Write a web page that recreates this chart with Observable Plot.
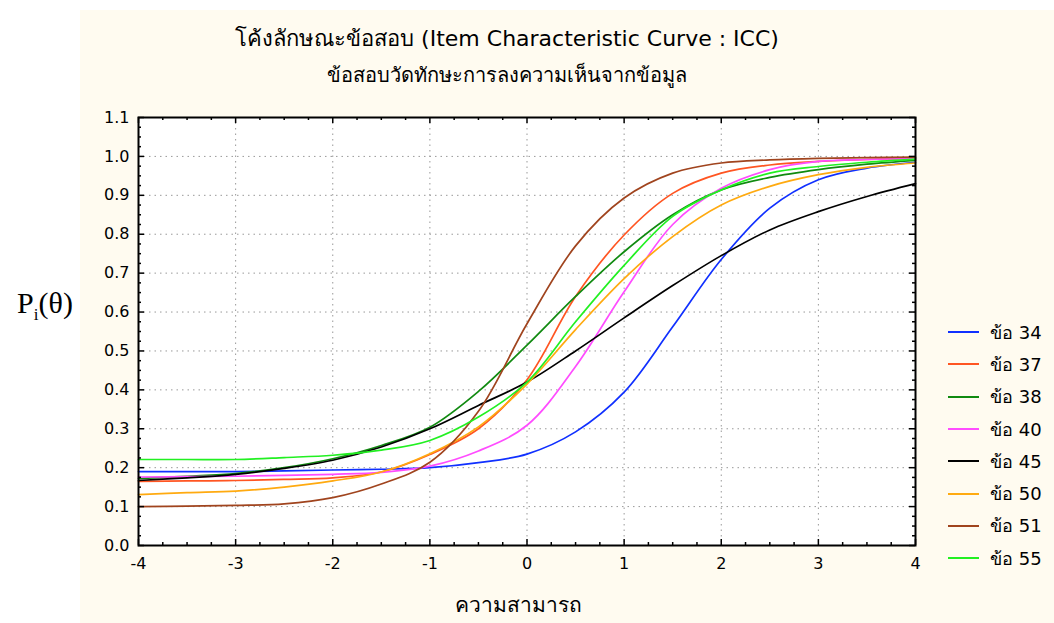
<!DOCTYPE html>
<html><head><meta charset="utf-8">
<script src="https://cdn.jsdelivr.net/npm/d3@7"></script>
<script src="https://cdn.jsdelivr.net/npm/@observablehq/plot@0.6"></script>
<style>
html,body{margin:0;padding:0;background:#fff;}
#wrap{position:relative;width:1054px;height:623px;overflow:hidden;font-family:Tahoma,"DejaVu Sans",sans-serif;color:#000;}
#panel{position:absolute;left:80px;top:10px;width:974px;height:613px;background:#fffbf0;}
#chart{position:absolute;left:0;top:0;}
.t{position:absolute;white-space:nowrap;transform:translate(-50%,-50%);}
#title{left:507px;top:38px;font-size:22px;}
#subtitle{left:507px;top:75px;font-size:20px;}
#xlabel{left:518px;top:604px;font-size:21px;}
#ylabel{left:45px;top:305px;font-family:"Liberation Serif","Times New Roman",serif;font-size:30px;}
#ylabel sub{font-size:17px;}
#legend{position:absolute;left:948px;top:316px;}
.li{display:flex;align-items:center;height:32.3px;font-size:18px;}
.sw{width:31px;height:0;border-top:2px solid;margin-right:11px;}
</style></head>
<body>
<div id="wrap">
  <div id="panel"></div>
  <div id="chart"></div>
  <div class="t" id="title">โค้งลักษณะข้อสอบ (Item Characteristic Curve : ICC)</div>
  <div class="t" id="subtitle">ข้อสอบวัดทักษะการลงความเห็นจากข้อมูล</div>
  <div class="t" id="xlabel">ความสามารถ</div>
  <div class="t" id="ylabel">P<sub>i</sub>(θ)</div>
  <div id="legend"></div>
</div>
<script>
// ability (theta) values
const theta = [-4,-3.5,-3,-2.5,-2,-1.5,-1,-0.5,0,0.5,1,1.5,2,2.5,3,3.5,4];
// item names
const items = ["ข้อ 34","ข้อ 37","ข้อ 38","ข้อ 40","ข้อ 45","ข้อ 50","ข้อ 51","ข้อ 55"];
const colors = ["#1030ff","#ff5522","#108a10","#ff4cff","#000000","#ffaa10","#a0441e","#22f022"];
// probabilities
const item34 = [0.19,0.19,0.19,0.192,0.194,0.196,0.200,0.213,0.235,0.292,0.394,0.562,0.735,0.867,0.94,0.97,0.985];
const item37 = [0.165,0.166,0.167,0.17,0.174,0.189,0.234,0.30,0.426,0.64,0.798,0.905,0.957,0.978,0.987,0.992,0.995];
const item38 = [0.172,0.178,0.185,0.20,0.223,0.257,0.304,0.396,0.515,0.64,0.755,0.85,0.914,0.946,0.966,0.98,0.99];
const item40 = [0.176,0.177,0.178,0.18,0.183,0.188,0.204,0.243,0.309,0.46,0.652,0.825,0.918,0.966,0.987,0.992,0.995];
const item45 = [0.167,0.174,0.183,0.198,0.219,0.253,0.30,0.36,0.42,0.50,0.585,0.668,0.745,0.811,0.858,0.897,0.93];
const item50 = [0.131,0.136,0.14,0.15,0.166,0.189,0.236,0.305,0.415,0.555,0.686,0.794,0.875,0.923,0.953,0.972,0.983];
const item51 = [0.10,0.101,0.103,0.107,0.123,0.158,0.214,0.345,0.57,0.77,0.893,0.957,0.983,0.991,0.995,0.997,0.998];
const item55 = [0.221,0.221,0.221,0.226,0.232,0.245,0.27,0.33,0.42,0.575,0.72,0.846,0.914,0.957,0.974,0.985,0.993];
const series = [item34,item37,item38,item40,item45,item50,item51,item55];
// ticks
const xTicks = [-4,-3,-2,-1,0,1,2,3,4];
const yTicks = [0,0.1,0.2,0.3,0.4,0.5,0.6,0.7,0.8,0.9,1.0,1.1];
const xMinor = d3.range(-4, 4.001, 0.25);
const yMinor = d3.range(0, 1.1001, 0.025);

const rows = series.flatMap((vals, i) => vals.map((p, j) => ({item: items[i], theta: theta[j], p})));

const W = 1054, H = 623, mL = 138, mR = 139, mT = 117, mB = 78;
const xPerPx = 8 / (W - mL - mR), yPerPx = 1.1 / (H - mT - mB);
const majX = 6 * xPerPx, minX = 3 * xPerPx, majY = 6 * yPerPx, minY = 3 * yPerPx;
const isMajorX = d => Math.abs(d - Math.round(d)) < 1e-6;
const isMajorY = d => Math.abs(d * 10 - Math.round(d * 10)) < 1e-6;

const chart = Plot.plot({
  width: W, height: H,
  marginLeft: mL, marginRight: mR, marginTop: mT, marginBottom: mB,
  style: {background: "transparent", fontFamily: 'Tahoma, "DejaVu Sans", sans-serif', fontSize: "16px", color: "#000"},
  x: {domain: [-4, 4]},
  y: {domain: [0, 1.1]},
  color: {domain: items, range: colors},
  marks: [
    Plot.frame({fill: "white", stroke: null}),
    Plot.gridX(xTicks.slice(1, -1), {stroke: "#999", strokeOpacity: 1, strokeDasharray: "1.5,4"}),
    Plot.gridY(yTicks.slice(1, -1), {stroke: "#999", strokeOpacity: 1, strokeDasharray: "1.5,4"}),
    Plot.line(rows, {x: "theta", y: "p", z: "item", stroke: "item", curve: "catmull-rom", strokeWidth: 1.7}),
    // inward ticks on all four sides
    Plot.ruleY(yMinor, {y: d => d, x1: -4, x2: d => -4 + (isMajorY(d) ? majX : minX), stroke: "#000", strokeWidth: 1.5}),
    Plot.ruleY(yMinor, {y: d => d, x1: 4, x2: d => 4 - (isMajorY(d) ? majX : minX), stroke: "#000", strokeWidth: 1.5}),
    Plot.ruleX(xMinor, {x: d => d, y1: 0, y2: d => (isMajorX(d) ? majY : minY), stroke: "#000", strokeWidth: 1.5}),
    Plot.ruleX(xMinor, {x: d => d, y1: 1.1, y2: d => 1.1 - (isMajorX(d) ? majY : minY), stroke: "#000", strokeWidth: 1.5}),
    Plot.frame({stroke: "#000", strokeWidth: 2}),
    Plot.axisX(xTicks, {tickSize: 0, tickPadding: 12, label: null, fontSize: 16, tickFormat: d => String(d)}),
    Plot.axisY(yTicks, {tickSize: 0, tickPadding: 9, label: null, tickFormat: d3.format(".1f"), fontSize: 16})
  ]
});
document.getElementById("chart").appendChild(chart);

const legend = document.getElementById("legend");
items.forEach((name, i) => {
  const row = document.createElement("div");
  row.className = "li";
  const sw = document.createElement("span");
  sw.className = "sw";
  sw.style.borderTopColor = colors[i];
  const tx = document.createElement("span");
  tx.textContent = name;
  row.appendChild(sw); row.appendChild(tx);
  legend.appendChild(row);
});
</script>
</body></html>
